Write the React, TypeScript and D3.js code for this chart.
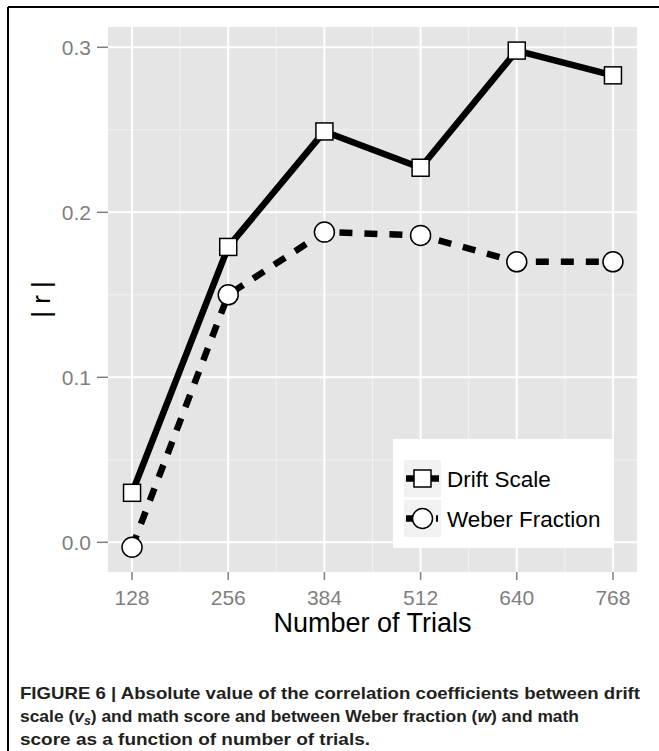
import React from "react";
import * as d3 from "d3";

const trials = [128, 256, 384, 512, 640, 768];
const driftScale = [0.03, 0.179, 0.249, 0.227, 0.298, 0.283];
const weberFraction = [-0.003, 0.15, 0.188, 0.186, 0.17, 0.17];
const yTicks = [0.0, 0.1, 0.2, 0.3];
const yMinor = [0.05, 0.15, 0.25];
const xMinor = [192, 320, 448, 576, 704];
const seriesNames = ["Drift Scale", "Weber Fraction"];

const W = 659;
const H = 751;
const panel = { left: 108, right: 637, top: 27, bottom: 572 };
const FONT = "'Liberation Sans', Arial, Helvetica, sans-serif";

export default function App() {
  const x = d3.scaleLinear().domain([96, 800]).range([panel.left, panel.right]);
  const y = d3.scaleLinear().domain([-0.018, 0.3123]).range([panel.bottom, panel.top]);
  const line = d3
    .line<[number, number]>()
    .x((d) => x(d[0]))
    .y((d) => y(d[1]));
  const driftPts: [number, number][] = trials.map((t, i) => [t, driftScale[i]]);
  const weberPts: [number, number][] = trials.map((t, i) => [t, weberFraction[i]]);
  const sq = 17;
  const cr = 10;
  const legendX = 393;
  const legendY = 439;
  const keyX = 404;
  const rowY = [460, 500];
  const keyW = 37;
  const keyH = 37;

  return (
    <svg
      width={W}
      height={H}
      style={{ position: "absolute", left: 0, top: 0, background: "#fff" }}
    >
      {/* frame */}
      <line x1={8} y1={7} x2={W} y2={7} stroke="#000" strokeWidth={2} />
      <line x1={8} y1={7} x2={8} y2={H} stroke="#000" strokeWidth={2} />

      {/* panel */}
      <rect
        x={panel.left}
        y={panel.top}
        width={panel.right - panel.left}
        height={panel.bottom - panel.top}
        fill="#e5e5e5"
      />
      {xMinor.map((v) => (
        <line key={"xm" + v} x1={x(v)} x2={x(v)} y1={panel.top} y2={panel.bottom} stroke="#f2f2f2" strokeWidth={1} />
      ))}
      {yMinor.map((v) => (
        <line key={"ym" + v} x1={panel.left} x2={panel.right} y1={y(v)} y2={y(v)} stroke="#f2f2f2" strokeWidth={1} />
      ))}
      {trials.map((v) => (
        <line key={"xM" + v} x1={x(v)} x2={x(v)} y1={panel.top} y2={panel.bottom} stroke="#fff" strokeWidth={2} />
      ))}
      {yTicks.map((v) => (
        <line key={"yM" + v} x1={panel.left} x2={panel.right} y1={y(v)} y2={y(v)} stroke="#fff" strokeWidth={2} />
      ))}

      {/* lines */}
      <path d={line(driftPts) || ""} fill="none" stroke="#000" strokeWidth={6.5} strokeLinejoin="round" />
      <path d={line(weberPts) || ""} fill="none" stroke="#000" strokeWidth={6.5} strokeDasharray="13,12" />

      {/* points */}
      {driftPts.map((d, i) => (
        <rect
          key={"s" + i}
          x={x(d[0]) - sq / 2}
          y={y(d[1]) - sq / 2}
          width={sq}
          height={sq}
          fill="#fff"
          stroke="#000"
          strokeWidth={1.5}
        />
      ))}
      {weberPts.map((d, i) => (
        <circle key={"c" + i} cx={x(d[0])} cy={y(d[1])} r={cr} fill="#fff" stroke="#000" strokeWidth={1.5} />
      ))}

      {/* y axis */}
      {yTicks.map((v) => (
        <g key={"yt" + v}>
          <line x1={97} x2={panel.left} y1={y(v)} y2={y(v)} stroke="#7f7f7f" strokeWidth={1.5} />
          <text
            x={91}
            y={y(v)}
            dy="0.36em"
            textAnchor="end"
            fontFamily={FONT}
            fontSize={21}
            fill="#7f7f7f"
          >
            {d3.format(".1f")(v)}
          </text>
        </g>
      ))}
      <text
        transform={`translate(50,${(panel.top + panel.bottom) / 2}) rotate(-90)`}
        textAnchor="middle"
        fontFamily={FONT}
        fontSize={26}
        fill="#000"
      >
        | r |
      </text>

      {/* x axis */}
      {trials.map((v) => (
        <g key={"xt" + v}>
          <line x1={x(v)} x2={x(v)} y1={panel.bottom} y2={panel.bottom + 8} stroke="#7f7f7f" strokeWidth={1.5} />
          <text x={x(v)} y={605} textAnchor="middle" fontFamily={FONT} fontSize={21} fill="#7f7f7f">
            {v}
          </text>
        </g>
      ))}
      <text
        x={(panel.left + panel.right) / 2}
        y={632}
        textAnchor="middle"
        fontFamily={FONT}
        fontSize={27}
        fill="#000"
      >
        Number of Trials
      </text>

      {/* legend */}
      <rect x={legendX} y={legendY} width={220} height={109} fill="#fff" />
      {seriesNames.map((name, i) => {
        const cy = rowY[i] + keyH / 2;
        const cx = keyX + keyW / 2;
        return (
          <g key={"lg" + i}>
            <rect x={keyX} y={rowY[i]} width={keyW} height={keyH} fill="#f2f2f2" />
            {i === 0 ? (
              <line x1={keyX + 2} x2={keyX + keyW - 2} y1={cy} y2={cy} stroke="#000" strokeWidth={6.5} />
            ) : (
              <g>
                <line x1={keyX + 2} x2={keyX + 10} y1={cy} y2={cy} stroke="#000" strokeWidth={6.5} />
                <line x1={keyX + 32} x2={keyX + 34} y1={cy} y2={cy} stroke="#000" strokeWidth={6.5} />
              </g>
            )}
            {i === 0 ? (
              <rect x={cx - sq / 2} y={cy - sq / 2} width={sq} height={sq} fill="#fff" stroke="#000" strokeWidth={1.5} />
            ) : (
              <circle cx={cx} cy={cy} r={cr} fill="#fff" stroke="#000" strokeWidth={1.5} />
            )}
            <text x={447} y={cy} dy="0.36em" fontFamily={FONT} fontSize={22.5} fill="#000">
              {name}
            </text>
          </g>
        );
      })}

      {/* caption */}
      <g fontFamily={FONT} fontWeight="bold" fontSize={17} fill="#231f20">
        <text x={20} y={699} textLength={620} lengthAdjust="spacingAndGlyphs">
          FIGURE 6 | Absolute value of the correlation coefficients between drift
        </text>
        <text x={20} y={722} textLength={559} lengthAdjust="spacingAndGlyphs">
          scale (<tspan fontStyle="italic">v</tspan>
          <tspan fontStyle="italic" fontSize={12} dy={3}>s</tspan>
          <tspan dy={-3}>) and math score and between Weber fraction (</tspan>
          <tspan fontStyle="italic">w</tspan>) and math
        </text>
        <text x={20} y={745} textLength={350} lengthAdjust="spacingAndGlyphs">
          score as a function of number of trials.
        </text>
      </g>
    </svg>
  );
}
